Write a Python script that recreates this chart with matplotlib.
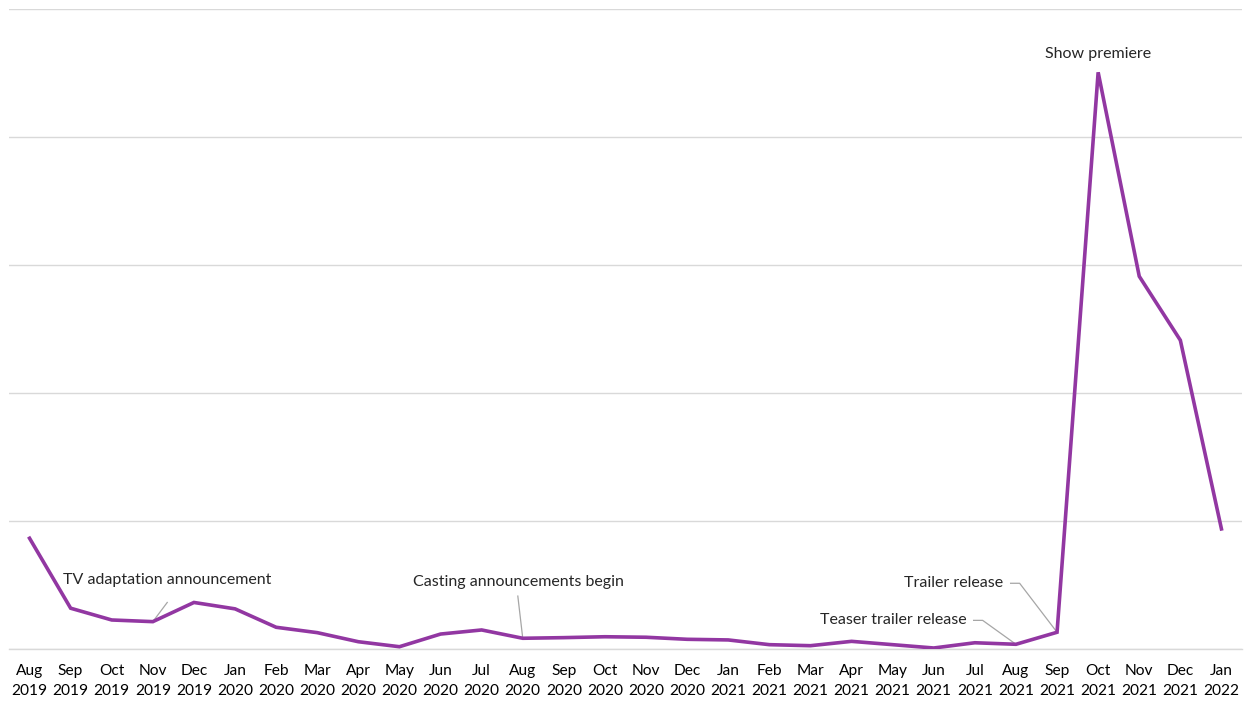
import matplotlib
matplotlib.use("Agg")
import matplotlib.pyplot as plt

plt.rcParams['font.family'] = ['Lato', 'DejaVu Sans']

months = ["Aug\n2019", "Sep\n2019", "Oct\n2019", "Nov\n2019", "Dec\n2019", "Jan\n2020",
          "Feb\n2020", "Mar\n2020", "Apr\n2020", "May\n2020", "Jun\n2020", "Jul\n2020",
          "Aug\n2020", "Sep\n2020", "Oct\n2020", "Nov\n2020", "Dec\n2020", "Jan\n2021",
          "Feb\n2021", "Mar\n2021", "Apr\n2021", "May\n2021", "Jun\n2021", "Jul\n2021",
          "Aug\n2021", "Sep\n2021", "Oct\n2021", "Nov\n2021", "Dec\n2021", "Jan\n2022"]
interest = [0.862, 0.315, 0.223, 0.21, 0.36, 0.31,
            0.166, 0.124, 0.053, 0.014, 0.113, 0.145,
            0.08, 0.085, 0.092, 0.088, 0.072, 0.067,
            0.03, 0.022, 0.056, 0.03, 0.004, 0.045,
            0.033, 0.127, 4.505, 2.91, 2.41, 0.935]

# (month index, label, text position, alignment, leader end or elbow start)
events = [
    (3, "TV adaptation announcement", (3.35, 0.535), "center", (3.35, 0.36)),
    (12, "Casting announcements begin", (11.9, 0.52), "center", (11.88, 0.41)),
    (25, "Trailer release", (23.7, 0.51), "right", None),
    (24, "Teaser trailer release", (22.8, 0.22), "right", None),
    (26, "Show premiere", (26.0, 4.65), "center", None),
]

fig = plt.figure(figsize=(12.5, 7.02), dpi=100)
ax = fig.add_axes([0.0072, 0.0762, 0.9864, 0.9110])

x = list(range(len(months)))
ax.plot(x, interest, color="#9237A2", linewidth=2.6, solid_joinstyle="miter", zorder=3)

ax.set_xlim(-0.5, len(months) - 0.5)
ax.set_ylim(0, 5)
ax.set_yticks([0, 1, 2, 3, 4, 5])
ax.yaxis.grid(True, color="#d9d9d9", linewidth=1.0)
ax.set_yticklabels([])
ax.tick_params(axis="y", length=0)
ax.set_xticks(x)
ax.set_xticklabels(months, fontsize=11.2, color="#000000", linespacing=1.55)
ax.tick_params(axis="x", length=0, pad=11)
for s in ["top", "right", "left"]:
    ax.spines[s].set_visible(False)
ax.spines["bottom"].set_color("#d9d9d9")
ax.spines["bottom"].set_linewidth(1.0)
ax.set_axisbelow(True)

for idx, label, (tx, ty), ha, leader in events:
    ax.text(tx, ty, label, ha=ha, va="center", fontsize=11.5, color="#262626", zorder=4)
    if idx == 26:
        continue
    px, py = idx, interest[idx]
    if leader is None:
        ex = tx + 0.17
        ax.plot([ex, ex + 0.22, px], [ty, ty, py], color="#a6a6a6", linewidth=0.9, zorder=2)
    else:
        ax.plot([px, leader[0]], [py, leader[1]], color="#a6a6a6", linewidth=0.9, zorder=2)

fig.savefig("out.png", dpi=100, facecolor="white")
